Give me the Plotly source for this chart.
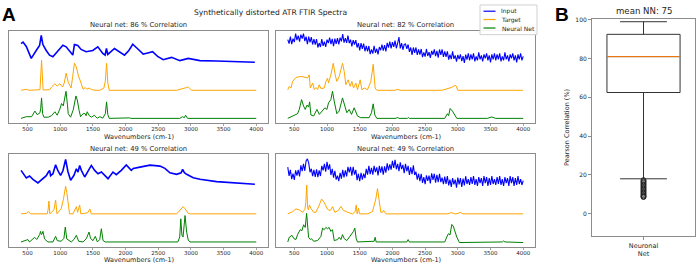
import plotly.graph_objects as go

# ---------------- data ----------------
# wavenumber grid for the noisy input spectra
grid_x = list(range(400, 4001, 20))

# panel 1 (top-left) : 86 %
tl_in_x = [400, 430, 480, 556, 632, 683, 709, 734, 785, 836, 887, 963, 1040, 1090, 1166, 1192, 1217, 1240, 1268, 1319,
           1396, 1498, 1575, 1651, 1687, 1707, 1728, 1830, 1932, 1983, 2050, 2110, 2180, 2270, 2340, 2413, 2490, 2576,
           2704, 2831, 2959, 3138, 3392, 3647, 3978]
tl_in_y = [80, 81.5, 77, 65, 73, 78, 88.3, 79, 73, 68.3, 66.7, 73, 78.3, 76.7, 70, 68.3, 79, 78.5, 78, 74,
           71.7, 73, 76.7, 70, 68.3, 75, 69, 75, 70, 68.3, 73, 79.3, 75, 69.3, 70.5, 71.7, 67, 63.7,
           66, 62.7, 65, 62.7, 62.3, 61.7, 61]
tl_tg_x = [400, 480, 520, 690, 714, 738, 841, 867, 918, 953, 994, 1035, 1060, 1090, 1122, 1166, 1189, 1217, 1243, 1280,
           1319, 1350, 1383, 1410, 1440, 1479, 1530, 1607, 1668, 1690, 1709, 1728, 1750, 2780, 2934, 2960, 3010, 4000]
tl_tg_y = [32.7, 33.7, 32.7, 33.3, 63, 33, 33.3, 36, 39.3, 37, 39.3, 36, 40, 50, 41, 35, 46, 60, 56.7, 47,
           40, 33.7, 35.5, 33.7, 35, 33.5, 32.7, 32.7, 35, 42, 60, 40, 32.7, 32.7, 35.5, 36, 32.7, 32.7]
tl_nn_x = [400, 480, 561, 612, 648, 689, 700, 714, 730, 750, 816, 867, 918, 953, 994, 1020, 1046, 1070, 1088, 1110,
           1122, 1158, 1199, 1240, 1260, 1290, 1311, 1350, 1377, 1395, 1413, 1444, 1479, 1520, 1566, 1607, 1650, 1690,
           1709, 1728, 1750, 2066, 2080, 2831, 2870, 2900, 2918, 2949, 4000]
tl_nn_y = [4.3, 6, 6, 11.7, 8, 10, 14, 25, 9, 5.5, 5.5, 7, 11, 7.5, 13.7, 19.3, 17, 24, 31.7, 18,
           9, 5.5, 13, 27, 23, 12, 6, 9, 9.3, 7, 11, 7, 5.5, 7.5, 4.5, 6, 4.5, 9,
           21, 8, 4.3, 4.8, 4.3, 4.3, 6, 5, 7.5, 4.3, 4.3]

# panel 2 (top-right) : 82 %  (noisy input on grid_x)
tr_in_y = [84, 80, 87, 79.5, 85, 81.5, 90, 83.5, 88, 82,
           89, 85, 90, 82.5, 87, 79.5, 87, 81.2, 86.5, 79,
           84.5, 79, 84.5, 76, 80.5, 76.5, 84.5, 77.7, 82, 76.5,
           84, 80.5, 86, 79.3, 84.7, 77.3, 85, 79.7, 85.5, 79.2,
           86, 82.2, 89.5, 81, 85.5, 80.7, 88, 80.5, 84, 77.2,
           83.5, 79, 83.5, 76, 80.5, 73, 80.5, 74.7, 80, 72.2,
           77.5, 72, 77.5, 69.2, 74, 69.8, 77.7, 70.7, 74.7, 69.1,
           76.5, 73.2, 79, 72.7, 78.5, 72.1, 80.7, 75.8, 82, 75.2,
           81.5, 76.7, 83, 75.2, 80.3, 86.5, 75, 80.5, 73.7, 79,
           79.5, 74.7, 79, 71.5, 76, 68.5, 76, 70.5, 76, 68.5,
           74, 68.7, 74.5, 66.2, 71, 66.7, 74.5, 67.4, 71.3, 65.4,
           72.5, 68.7, 74, 67.2, 72.5, 65.7, 74, 68.5, 74, 66.5,
           72, 66.5, 72, 63.8, 68.7, 64.3, 72, 64.5, 68, 61.7,
           68.5, 64.2, 69, 62.1, 67.3, 60.5, 68.7, 63.8, 70, 63,
           69, 64, 70, 62, 67, 63, 71, 64, 68, 62,
           69, 65, 70, 63, 68, 61, 69, 64, 70, 63,
           69, 64, 70, 62, 67, 63, 71, 64, 68, 62,
           69, 65, 70, 63, 68, 61, 69, 64, 70, 63,
           67]
tr_tg_x = [400, 423, 449, 474, 525, 601, 678, 703, 728, 744, 780, 805, 831, 856, 880, 906, 957, 983, 1008, 1023,
           1059, 1095, 1125, 1150, 1186, 1237, 1263, 1288, 1324, 1354, 1380, 1405, 1441, 1466, 1507, 1533, 1568,
           1619, 1670, 1706, 1736, 1762, 2040, 2080, 2120, 2755, 2900, 2958, 2975, 3000, 4000]
tr_tg_y = [33.3, 36.7, 35, 41.7, 45.7, 46.7, 45.7, 45, 48.3, 35, 40, 33.5, 35.5, 33.5, 38.3, 34.5, 35, 41.7, 45, 40,
           48.3, 60, 48.3, 41.7, 46.7, 60, 51.7, 38.3, 43.3, 36.7, 41.7, 35, 40, 33.3, 43.3, 33.3, 35,
           33.3, 41.7, 59, 35, 32.7, 32.7, 33.7, 32.7, 32.7, 35.5, 37.7, 37, 32.7, 32.7]
tr_nn_x = [400, 449, 500, 550, 576, 611, 642, 667, 693, 718, 734, 754, 795, 846, 882, 932, 968, 998, 1023, 1059,
           1084, 1110, 1150, 1186, 1237, 1273, 1303, 1339, 1375, 1415, 1441, 1466, 1517, 1644, 1680, 1706, 1731,
           1762, 2060, 2077, 2095, 2230, 2245, 2260, 2800, 2841, 2860, 2882, 2918, 2943, 2984, 3450, 3519, 3580, 4000]
tr_nn_y = [4.3, 5.7, 7.7, 9, 13.3, 23.3, 16.7, 13.3, 17.7, 15.7, 21, 7.7, 6.7, 13.3, 8.3, 12.3, 15, 13.3, 20, 23.3,
           31.7, 21.7, 9, 11.7, 25, 16.7, 10, 13.3, 8.3, 15, 10, 6.7, 5, 5, 10, 19, 7.7,
           4.3, 4.3, 5.7, 4.3, 4.3, 5.3, 4.3, 4.3, 9, 7, 14.3, 11.7, 8.3, 4.3, 4.3, 5.7, 4.3, 4.3]

# panel 3 (bottom-left) : 49 %
bl_in_x = [400, 428, 480, 530, 582, 658, 735, 786, 811, 837, 852, 888, 929, 964, 1005, 1041, 1082, 1118, 1159, 1210,
           1246, 1272, 1297, 1323, 1374, 1425, 1476, 1527, 1578, 1629, 1680, 1731, 1807, 1858, 1934, 2011, 2087, 2118,
           2220, 2300, 2373, 2526, 2602, 2679, 2781, 2850, 2873, 2900, 2934, 3036, 3138, 3393, 3648, 3979]
bl_in_y = [77.4, 75, 69.7, 71.7, 68.4, 64.7, 69, 72, 75, 77.4, 72, 74, 83, 77, 72.4, 77, 88.4, 76, 67.4, 72.4,
           79, 75.7, 82.4, 77.4, 70.7, 76.4, 82.4, 77.4, 74, 75.7, 72.4, 69, 75.7, 73, 77.4, 83, 77.4, 79.4,
           80.7, 81.5, 82.7, 81.7, 79.4, 75, 73.4, 75, 78.4, 75, 73.4, 70, 68.4, 66, 65, 63.4]
bl_tg_x = [400, 480, 515, 546, 800, 815, 827, 840, 903, 929, 950, 1015, 1051, 1082, 1100, 1118, 1143, 1195, 1220, 1246,
           1265, 1297, 1315, 1374, 1420, 1454, 1475, 2781, 2857, 2882, 2910, 2959, 2990, 4000]
bl_tg_y = [33.4, 34, 35.7, 33.4, 33.4, 38, 46.4, 33.4, 37.4, 47.4, 33.4, 39, 49, 61.4, 55, 45.7, 33.4, 33.4, 37.4, 40.7,
           35, 42.4, 33.4, 34, 34.5, 38.4, 33.4, 33.4, 38.4, 40.7, 38.5, 34, 33.4, 33.4]
bl_nn_x = [400, 460, 505, 530, 582, 607, 640, 684, 699, 710, 720, 735, 760, 811, 888, 929, 954, 1015, 1056, 1077,
           1100, 1169, 1210, 1246, 1282, 1348, 1399, 1440, 1466, 1502, 1537, 1568, 1604, 1629, 1655, 1690, 2800,
           2829, 2845, 2862, 2880, 2910, 2935, 2959, 2985, 4000]
bl_nn_y = [5, 6, 7.4, 5, 8, 9.7, 7.5, 12.4, 15.7, 12.5, 13, 15.7, 8, 5, 5, 10.7, 6.3, 5.7, 8.7, 20,
           8, 5, 7.5, 11.7, 5.7, 5, 8.3, 15, 8.3, 6.3, 10.7, 5, 7.4, 18.4, 6.4, 5, 5,
           10, 28.4, 12, 10, 31.7, 15, 7, 5, 5]

# panel 4 (bottom-right) : 49 %  (noisy input on grid_x)
br_in_y = [80.7, 71.8, 78, 68.5, 74, 67.7, 77.5, 72.2, 78, 71.2,
           82.5, 76.7, 84, 77, 87, 89, 85, 75.5, 79, 71.5,
           78, 70.7, 78.5, 70.5, 77.5, 71.7, 82, 77.5, 84, 76,
           86, 78.2, 83.5, 72.7, 79, 70, 77, 68, 72, 66.5,
           75, 69, 78, 70.2, 77.5, 71.2, 81, 75.5, 81, 72,
           81, 73, 78, 67.5, 74, 66.5, 75, 68, 74, 69.5,
           79, 73, 82, 73.5, 80, 73, 82, 75.7, 80.5, 72.2,
           82, 75.2, 81.5, 73, 81.5, 75, 84.5, 77.5, 83.5, 78.2,
           87, 80, 88, 78.5, 84, 76.7, 85.5, 78.7, 83, 74.5,
           84, 76.5, 82, 72.7, 80.5, 73.5, 82.5, 72.7, 76, 68,
           74, 66.5, 74, 64.7, 70.5, 63.4, 72.4, 66.7, 72, 64.2,
           74.5, 67.7, 74, 65, 73, 65.5, 74, 65.5, 70, 63.5,
           71, 63.8, 71.7, 62.3, 68, 60.7, 69.5, 63.2, 68, 60,
           70, 63.2, 69.5, 60.7, 69, 62.2, 71.5, 63.6, 68.6, 62.6,
           70.6, 63.6, 71.6, 62.6, 68.6, 61.6, 70.6, 64.6, 69.6, 61.6,
           71.6, 64.6, 70.6, 61.6, 69.6, 62.6, 71.6, 63.6, 68.6, 62.6,
           70.6, 63.6, 71.6, 62.6, 68.6, 61.6, 70.6, 64.6, 69.6, 61.6,
           71.6, 64.6, 70.6, 61.6, 69.6, 62.6, 71.6, 63.6, 68.6, 62.6,
           67]
br_tg_x = [400, 474, 525, 576, 627, 662, 676, 690, 703, 715, 730, 754, 795, 831, 882, 917, 957, 1008, 1049, 1084,
           1120, 1171, 1212, 1250, 1314, 1390, 1431, 1446, 1461, 1482, 1497, 1619, 1695, 1746, 1772, 1802, 1823,
           1848, 1864, 1900, 2850, 2900, 2950, 3000, 3040, 3080, 4000]
br_tg_y = [33.4, 35.7, 38.4, 37.4, 35, 38, 45, 62.4, 40, 37.5, 42.4, 39, 35, 35, 42.4, 48.4, 45, 38, 36.7, 40.7,
           35, 36.7, 41, 37, 35, 33.4, 35.7, 42.4, 33.4, 39, 33.4, 33.4, 35.7, 48.4, 59, 45, 35,
           35, 37, 33.4, 33.4, 34.8, 33.4, 33.8, 35, 33.4, 33.4]
br_nn_x = [400, 423, 464, 495, 525, 550, 591, 617, 642, 667, 688, 703, 718, 744, 764, 795, 856, 907, 932, 957,
           983, 1008, 1033, 1059, 1084, 1110, 1161, 1186, 1212, 1237, 1263, 1303, 1339, 1375, 1405, 1425, 1446, 1466,
           1721, 1736, 1751, 2220, 2240, 2260, 2800, 2831, 2857, 2880, 2908, 2930, 2984, 3024, 3680, 3700, 3720, 4000]
br_nn_y = [5, 9.7, 11.7, 8.3, 7.5, 12.4, 17.4, 16.4, 22.4, 19.7, 34, 24, 9.7, 7.5, 8.3, 5.7, 6.4, 10.7, 19, 17.4,
           19.7, 18.4, 19.7, 15.7, 17.4, 6.4, 7.4, 9.7, 7.4, 12.4, 8.4, 6.4, 9.7, 11.7, 15.7, 19, 8.4, 5,
           5.7, 9.7, 5, 5, 7.4, 5, 5, 10, 13.4, 12, 22.7, 21, 10, 4.4, 5, 6, 5, 4.4]

panel_titles = ["Neural net: 86 % Correlation", "Neural net: 82 % Correlation",
                "Neural net: 49 % Correlation", "Neural net: 49 % Correlation"]
x_ticks = [500, 1000, 1500, 2000, 2500, 3000, 3500, 4000]
legend_names = ["Input", "Target", "Neural Net"]

# panel B box statistics
box_q1, box_median, box_q3 = 62.5, 81, 92.5
box_low, box_high = 18, 99
box_fliers = [17.3, 16.6, 15.9, 15.2, 14.5, 13.8, 13.1, 12.4, 11.7, 11.0, 10.3, 9.6, 9.0, 8.6]
box_ticks = [0, 20, 40, 60, 80, 100]

# ---------------- figure ----------------
W, H = 698, 264
FONT = "DejaVu Sans"
BLUE, ORANGE, GREEN = "#0000ff", "#ffa500", "#008000"
COLORS = [BLUE, ORANGE, GREEN]
FRAME = "#8c8c8c"
TXT = "#262626"


def px(x):
    return x / W


def py(y):
    return 1 - y / H


fig = go.Figure()

panels = [
    (tl_in_x, tl_in_y, tl_tg_x, tl_tg_y, tl_nn_x, tl_nn_y),
    (grid_x, tr_in_y, tr_tg_x, tr_tg_y, tr_nn_x, tr_nn_y),
    (bl_in_x, bl_in_y, bl_tg_x, bl_tg_y, bl_nn_x, bl_nn_y),
    (grid_x, br_in_y, br_tg_x, br_tg_y, br_nn_x, br_nn_y),
]
noisy = [False, True, False, True]

for i, (ix, iy, tx, ty, nx, ny) in enumerate(panels):
    k = "" if i == 0 else str(i + 1)
    fig.add_trace(go.Scatter(x=ix, y=iy, mode="lines", name=legend_names[0],
                             line=dict(color=BLUE, width=1.1 if noisy[i] else 1.6),
                             xaxis="x" + k, yaxis="y" + k, showlegend=False))
    fig.add_trace(go.Scatter(x=tx, y=ty, mode="lines", name=legend_names[1],
                             line=dict(color=ORANGE, width=1),
                             xaxis="x" + k, yaxis="y" + k, showlegend=False))
    fig.add_trace(go.Scatter(x=nx, y=ny, mode="lines", name=legend_names[2],
                             line=dict(color=GREEN, width=1),
                             xaxis="x" + k, yaxis="y" + k, showlegend=False))

# box plot
fig.add_trace(go.Box(x=[1], q1=[box_q1], median=[box_median], q3=[box_q3],
                     lowerfence=[box_low], upperfence=[box_high],
                     width=0.71, whiskerwidth=0.64, fillcolor="rgba(0,0,0,0)",
                     line=dict(color="#333333", width=1), boxpoints=False,
                     xaxis="x5", yaxis="y5", showlegend=False, hoverinfo="skip"))
fig.add_trace(go.Scatter(x=[1 - 0.355, 1 + 0.355], y=[box_median, box_median], mode="lines",
                         line=dict(color="#ff7f0e", width=1), xaxis="x5", yaxis="y5",
                         showlegend=False))
fig.add_trace(go.Scatter(x=[1] * len(box_fliers), y=box_fliers, mode="markers",
                         marker=dict(symbol="circle-open", size=5, color="#222222",
                                     line=dict(width=1)),
                         xaxis="x5", yaxis="y5", showlegend=False))

# axis geometry (pixels)
cols = [(9.3, 268), (276, 535)]
rows = [(28, 121), (152.7, 246.7)]

layout_axes = {}
for i in range(4):
    r, c = divmod(i, 2)
    k = "" if i == 0 else str(i + 1)
    xl, xr = cols[c]
    yt, yb = rows[r]
    layout_axes["xaxis" + k] = dict(
        domain=[px(xl), px(xr)], range=[220, 4180], anchor="y" + k,
        tickvals=x_ticks, ticks="outside", ticklen=2.5, tickwidth=0.8, tickcolor=FRAME,
        ticklabelstandoff=-2,
        tickfont=dict(size=5.5, color=TXT, family=FONT),
        showline=True, mirror=True, linecolor=FRAME, linewidth=1,
        showgrid=False, zeroline=False)
    layout_axes["yaxis" + k] = dict(
        domain=[py(yb), py(yt)], range=[0, yb - yt], anchor="x" + k,
        showticklabels=False, ticks="", showline=True, mirror=True,
        linecolor=FRAME, linewidth=1, showgrid=False, zeroline=False)

layout_axes["xaxis5"] = dict(
    domain=[px(592), px(695)], range=[0.5, 1.5], anchor="y5",
    tickvals=[1], ticktext=["Neuronal<br>Net"], ticks="outside", ticklen=3,
    tickcolor=FRAME, tickfont=dict(size=6.5, color=TXT, family=FONT),
    showline=True, mirror=True, linecolor=FRAME, linewidth=1,
    showgrid=False, zeroline=False)
layout_axes["yaxis5"] = dict(
    domain=[py(235.7), py(16)], range=[-11.5, 100.5], anchor="x5",
    tickvals=box_ticks, ticks="outside", ticklen=3, tickcolor=FRAME,
    tickfont=dict(size=6, color=TXT, family=FONT),
    title=dict(text="Pearson Correlation (%)", font=dict(size=6.5, color=TXT, family=FONT), standoff=5),
    showline=True, mirror=True, linecolor=FRAME, linewidth=1,
    showgrid=False, zeroline=False)

annotations = []
for i in range(4):
    r, c = divmod(i, 2)
    xl, xr = cols[c]
    cx = px((xl + xr) / 2)
    ty = [22.7, 147.3][r]
    ay = [136, 259.5][r]
    annotations.append(dict(text=panel_titles[i], x=cx, y=py(ty), xref="paper", yref="paper",
                            showarrow=False, xanchor="center", yanchor="middle",
                            font=dict(size=6.8, color=TXT, family=FONT)))
    annotations.append(dict(text="Wavenumbers (cm-1)", x=cx, y=py(ay), xref="paper", yref="paper",
                            showarrow=False, xanchor="center", yanchor="middle",
                            font=dict(size=6.5, color=TXT, family=FONT)))

annotations += [
    dict(text="Synthetically distorted ATR FTIR Spectra", x=px(270.5), y=py(9.5), xref="paper",
         yref="paper", showarrow=False, xanchor="center", yanchor="middle",
         font=dict(size=7.6, color=TXT, family=FONT)),
    dict(text="mean NN: 75", x=px(644), y=py(8.5), xref="paper", yref="paper", showarrow=False,
         xanchor="center", yanchor="middle", font=dict(size=8.6, color=TXT, family=FONT)),
    dict(text="<b>A</b>", x=px(0), y=py(11.5), xref="paper", yref="paper", showarrow=False,
         xanchor="left", yanchor="middle", font=dict(size=19, color="#000", family="Liberation Sans")),
    dict(text="<b>B</b>", x=px(553), y=py(11.5), xref="paper", yref="paper", showarrow=False,
         xanchor="left", yanchor="middle", font=dict(size=19, color="#000", family="Liberation Sans")),
]

# hand-drawn legend (matplotlib style, compact)
shapes = [dict(type="rect", xref="paper", yref="paper", x0=px(480), x1=px(537), y0=py(32), y1=py(2),
               line=dict(color="#d0d0d0", width=1), fillcolor="rgba(255,255,255,0.9)", layer="above")]
leg_rows = [8.3, 16.7, 25.3]
for name, col, ry in zip(legend_names, COLORS, leg_rows):
    shapes.append(dict(type="line", xref="paper", yref="paper", x0=px(483.5), x1=px(495.5),
                       y0=py(ry), y1=py(ry), line=dict(color=col, width=1.2), layer="above"))
    annotations.append(dict(text=name, x=px(499.5), y=py(ry), xref="paper", yref="paper",
                            showarrow=False, xanchor="left", yanchor="middle",
                            font=dict(size=6, color=TXT, family=FONT)))

fig.update_layout(
    width=W, height=H, autosize=False,
    margin=dict(l=0, r=0, t=0, b=0),
    paper_bgcolor="white", plot_bgcolor="white",
    font=dict(family=FONT, color=TXT),
    annotations=annotations, shapes=shapes,
    showlegend=False, hovermode=False,
    **layout_axes,
)

fig.write_html("out.html", config={"displayModeBar": False, "staticPlot": True},
               post_script="document.body.style.margin='0px';document.body.style.overflow='hidden';")
